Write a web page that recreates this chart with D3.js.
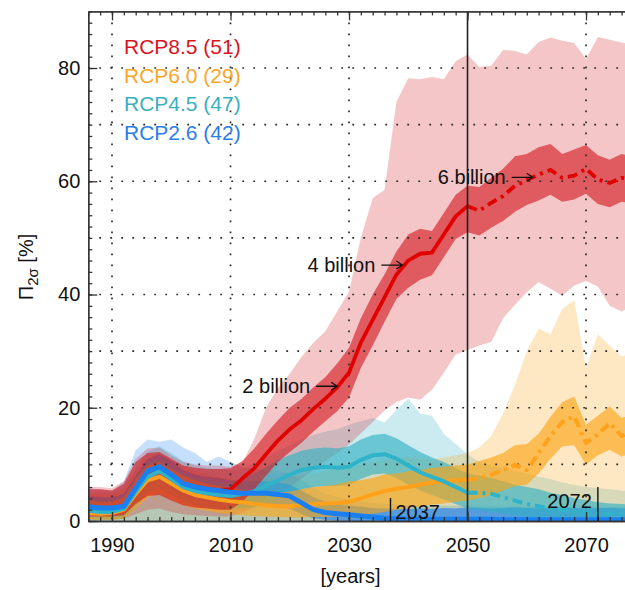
<!DOCTYPE html>
<html>
<head>
<meta charset="utf-8">
<script src="https://cdn.jsdelivr.net/npm/d3@7"></script>
<style>
  body { margin: 0; background: #fff; }
  svg { display: block; }
</style>
</head>
<body>
<svg id="chart" width="625" height="590"></svg>
<script>
// ---- data: ensemble fraction Π2σ [%] per scenario, every second year ----
const years = [1986, 1988, 1990, 1992, 1994, 1996, 1998, 2000, 2002, 2004,
               2006, 2008, 2010, 2012, 2014, 2016, 2018, 2020, 2022, 2024,
               2026, 2028, 2030, 2032, 2034, 2036, 2038, 2040, 2042, 2044,
               2046, 2048, 2050, 2052, 2054, 2056, 2058, 2060, 2062, 2064,
               2066, 2068, 2070, 2072, 2074, 2076, 2078];

const scenarioNames = ["RCP8.5", "RCP6.0", "RCP4.5", "RCP2.6"];
const modelCounts = [51, 29, 47, 42];

// RCP8.5
const rcp85Median = [2.4, 2.2, 2.1, 2.4, 5.6, 8.6, 9.4, 8.0, 6.5, 6.0, 5.6, 5.5, 5.6, 7.5, 9.3, 11.8, 14.2, 16.2, 17.8, 19.8, 21.6, 23.6, 26.2, 31.5, 35.5, 39.5, 43.5, 46.0, 47.2, 47.4, 50.6, 53.8, 55.6, 54.8, 56.2, 57.4, 59.2, 60.2, 61.2, 62.0, 60.6, 61.0, 62.2, 60.3, 59.7, 60.6, 60.2];
const rcp85InnerHi = [5.6, 5.6, 5.4, 6.6, 10.4, 12.0, 12.2, 11.0, 9.8, 9.4, 9.2, 9.2, 9.3, 10.6, 12.8, 15.4, 17.8, 20.0, 21.6, 23.6, 25.4, 27.8, 30.6, 35.8, 40.0, 43.6, 47.6, 50.6, 51.6, 51.2, 54.4, 57.6, 59.2, 59.0, 60.6, 62.2, 64.4, 64.8, 66.0, 66.6, 64.8, 65.6, 66.4, 64.6, 63.8, 64.8, 64.4];
const rcp85InnerLo = [0.8, 0.8, 0.8, 1.0, 3.0, 4.4, 4.6, 3.6, 2.8, 2.4, 2.2, 2.0, 2.0, 3.4, 5.6, 8.0, 10.4, 12.2, 13.8, 15.8, 17.6, 19.4, 21.8, 27.0, 31.0, 35.2, 39.2, 41.2, 42.6, 43.4, 46.6, 49.8, 51.0, 50.4, 51.8, 53.0, 54.6, 55.8, 56.6, 57.6, 56.4, 56.8, 57.8, 56.0, 55.4, 56.4, 56.0];
const rcp85OuterHi = [6.0, 6.0, 5.8, 7.0, 11.0, 12.8, 13.0, 11.6, 10.4, 10.0, 9.8, 9.8, 9.6, 10.2, 14.5, 20.0, 23.5, 26.0, 29.0, 31.5, 33.5, 37.0, 40.5, 50.0, 57.0, 58.5, 74.0, 78.2, 78.0, 78.4, 78.0, 81.2, 82.4, 80.2, 80.4, 83.2, 83.0, 82.4, 84.6, 85.4, 84.8, 84.4, 81.6, 85.5, 85.0, 84.5, 84.0];
const rcp85OuterLo = [0.3, 0.3, 0.3, 0.4, 1.2, 2.0, 2.2, 1.6, 1.2, 1.0, 0.9, 0.8, 0.8, 1.5, 2.5, 4.0, 5.0, 6.0, 7.5, 9.0, 10.5, 12.0, 13.5, 15.5, 17.5, 19.5, 21.0, 21.8, 21.4, 23.2, 26.2, 29.4, 30.2, 31.0, 31.6, 35.8, 38.2, 40.4, 42.2, 41.0, 39.8, 41.6, 42.4, 41.4, 38.0, 37.0, 38.0];

// RCP6.0
const rcp60Median = [1.4, 1.3, 1.4, 2.0, 4.8, 7.2, 7.8, 6.6, 5.4, 4.6, 4.2, 3.8, 3.5, 3.3, 3.0, 2.8, 2.6, 2.6, 2.8, 3.0, 3.1, 3.2, 3.4, 4.0, 4.7, 5.3, 5.7, 6.0, 6.4, 6.8, 7.0, 7.2, 7.3, 7.6, 8.2, 9.0, 9.9, 9.0, 12.0, 15.0, 17.5, 18.5, 13.8, 15.3, 17.3, 15.0, 16.0];
const rcp60InnerHi = [3.6, 3.4, 3.4, 4.2, 7.4, 9.8, 10.4, 9.2, 8.0, 7.2, 6.6, 6.2, 5.8, 5.5, 5.2, 5.0, 5.0, 5.2, 5.6, 6.0, 6.2, 6.5, 7.0, 7.2, 7.6, 8.2, 8.4, 8.8, 9.0, 9.4, 9.6, 9.8, 10.0, 10.6, 11.2, 12.0, 13.4, 13.6, 15.4, 18.4, 21.0, 22.0, 17.0, 18.6, 20.2, 18.2, 19.0];
const rcp60InnerLo = [0.2, 0.2, 0.2, 0.4, 2.2, 4.2, 4.8, 3.8, 2.8, 2.2, 1.8, 1.4, 1.2, 1.0, 0.9, 0.8, 0.7, 0.6, 0.6, 0.7, 0.7, 0.8, 0.8, 1.0, 1.3, 1.6, 2.0, 2.3, 2.6, 2.9, 3.1, 3.4, 3.6, 4.0, 4.6, 5.4, 6.2, 6.4, 8.4, 11.0, 13.2, 13.4, 10.0, 11.6, 12.6, 11.4, 12.0];
const rcp60OuterHi = [5.0, 4.8, 4.8, 5.6, 9.0, 11.4, 12.0, 10.8, 9.6, 8.8, 8.2, 7.8, 7.4, 7.2, 7.2, 7.4, 7.6, 7.8, 8.0, 8.4, 8.8, 9.2, 9.6, 10.0, 10.4, 10.8, 11.0, 11.4, 11.0, 10.8, 11.2, 11.6, 12.0, 13.0, 15.0, 19.0, 24.0, 30.0, 34.0, 33.0, 37.5, 39.0, 27.0, 33.0, 31.0, 29.0, 30.0];
const rcp60OuterLo = [0, 0, 0, 0, 0, 0, 0, 0, 0, 0, 0, 0, 0, 0, 0, 0, 0, 0, 0, 0, 0, 0, 0, 0, 0, 0, 0, 0, 0, 0, 0, 0, 0, 0, 0, 0, 0, 0, 0, 0, 0, 0, 0, 0, 0, 0, 0];

// RCP4.5
const rcp45Median = [1.8, 1.6, 1.6, 2.2, 5.2, 7.8, 8.8, 7.4, 6.0, 5.3, 4.9, 4.6, 4.4, 4.8, 5.2, 6.2, 7.2, 8.2, 9.0, 9.4, 9.6, 9.4, 9.6, 10.8, 11.6, 11.8, 11.0, 9.8, 8.6, 7.8, 7.0, 6.0, 5.0, 5.0, 4.8, 4.2, 3.6, 3.0, 2.6, 2.2, 2.0, 1.7, 1.5, 1.3, 1.2, 1.1, 1.0];
const rcp45InnerHi = [4.0, 3.8, 3.8, 4.6, 7.6, 10.2, 11.2, 9.8, 8.4, 7.6, 7.2, 6.9, 6.8, 7.4, 8.4, 9.6, 10.8, 11.6, 12.4, 12.8, 13.0, 12.8, 13.2, 14.4, 15.2, 15.4, 14.6, 13.4, 12.2, 11.2, 10.4, 9.4, 8.4, 8.0, 7.6, 7.0, 6.4, 6.0, 5.6, 5.0, 4.6, 4.0, 3.7, 3.3, 3.1, 3.0, 2.9];
const rcp45InnerLo = [0.2, 0.2, 0.2, 0.4, 2.6, 5.0, 5.8, 4.6, 3.4, 2.8, 2.4, 2.2, 2.0, 2.2, 2.4, 3.0, 3.8, 4.8, 5.6, 6.0, 6.2, 6.2, 6.4, 7.4, 8.2, 8.4, 7.6, 6.4, 5.4, 4.6, 3.8, 3.0, 2.2, 1.9, 1.6, 1.3, 1.0, 0.8, 0.6, 0.5, 0.4, 0.4, 0.3, 0.3, 0.3, 0.3, 0.3];
const rcp45OuterHi = [5.4, 5.2, 5.2, 6.0, 9.4, 12.2, 13.2, 12.0, 10.6, 9.8, 9.4, 9.2, 9.0, 9.2, 10.2, 11.2, 12.4, 13.4, 14.4, 15.2, 15.8, 16.2, 17.0, 17.6, 18.2, 17.4, 19.6, 21.6, 19.0, 18.6, 15.4, 13.6, 11.8, 10.4, 9.8, 9.4, 8.8, 8.4, 7.8, 7.4, 6.8, 6.4, 6.0, 5.8, 5.6, 5.4, 5.2];
const rcp45OuterLo = [0, 0, 0, 0, 0, 0, 0, 0, 0, 0, 0, 0, 0, 0, 0, 0, 0, 0, 0, 0, 0, 0, 0, 0, 0, 0, 0, 0, 0, 0, 0, 0, 0, 0, 0, 0, 0, 0, 0, 0, 0, 0, 0, 0, 0, 0, 0];

// RCP2.6
const rcp26Median = [2.5, 2.3, 2.3, 2.6, 5.8, 8.8, 9.6, 8.2, 6.6, 6.0, 5.6, 5.4, 5.1, 4.9, 4.9, 4.9, 4.7, 4.4, 3.2, 2.0, 1.5, 1.3, 1.1, 0.9, 0.7, 0.5, 0.4, 0.3, 0.3, 0.3, 0.3, 0.3, 0.3, 0.3, 0.3, 0.2, 0.2, 0.2, 0.2, 0.2, 0.2, 0.2, 0.2, 0.2, 0.2, 0.2, 0.2];
const rcp26InnerHi = [4.4, 4.2, 4.2, 4.8, 8.0, 11.0, 11.8, 10.6, 9.0, 8.2, 7.8, 7.6, 7.2, 7.0, 7.0, 7.0, 6.8, 6.4, 5.4, 4.2, 3.4, 3.0, 2.7, 2.5, 2.3, 2.2, 2.1, 2.1, 2.2, 2.1, 2.3, 2.2, 2.4, 2.3, 2.2, 2.3, 2.4, 2.3, 2.2, 2.3, 2.4, 2.3, 2.2, 2.3, 2.3, 2.2, 2.3];
const rcp26InnerLo = [0.8, 0.6, 0.6, 0.8, 3.4, 6.4, 7.2, 5.8, 4.2, 3.8, 3.4, 3.2, 3.0, 2.8, 2.8, 2.8, 2.6, 2.2, 1.2, 0.5, 0.2, 0.1, 0, 0, 0, 0, 0, 0, 0, 0, 0, 0, 0, 0, 0, 0, 0, 0, 0, 0, 0, 0, 0, 0, 0, 0, 0];
const rcp26OuterHi = [5.8, 5.6, 5.4, 7.0, 12.5, 14.4, 14.0, 14.4, 13.0, 12.0, 10.4, 11.4, 10.4, 9.6, 9.2, 9.0, 8.8, 8.4, 7.2, 6.0, 4.8, 4.2, 3.8, 3.5, 3.2, 3.0, 2.9, 2.8, 2.8, 2.8, 2.7, 2.7, 2.7, 2.6, 2.6, 2.6, 2.6, 2.5, 2.5, 2.5, 2.5, 2.5, 2.5, 2.5, 2.5, 2.5, 2.5];
const rcp26OuterLo = [0, 0, 0, 0, 0, 0, 0, 0, 0, 0, 0, 0, 0, 0, 0, 0, 0, 0, 0, 0, 0, 0, 0, 0, 0, 0, 0, 0, 0, 0, 0, 0, 0, 0, 0, 0, 0, 0, 0, 0, 0, 0, 0, 0, 0, 0, 0];

// axis ticks
const xTickYears = [1990, 2010, 2030, 2050, 2070];
const yTickValues = [0, 20, 40, 60, 80];
const yGridValues = [10, 20, 30, 40, 50, 60, 70, 80];
const xGridYears = [1990, 2010, 2030, 2070];
const splitYear = 2050;

// population annotations along the RCP8.5 median
const popLabels = ["2 billion", "4 billion", "6 billion"];
const popYears = [2028, 2039, 2061];
const popValues = [23.8, 45.2, 60.7];

// years at which the lower scenarios drop out
const dropYears = [2037, 2072];

// ---- drawing ----
const palette = {
  "RCP8.5": { band: "#d41a20", line: "#e00000", text: "#d8141c" },
  "RCP6.0": { band: "#fca311", line: "#ffa11a", text: "#f9a62a" },
  "RCP4.5": { band: "#31b0c4", line: "#2fb3c8", text: "#3ab0c0" },
  "RCP2.6": { band: "#1a7ff2", line: "#1a80f2", text: "#2a7ee8" }
};

const series = [
  { name: "RCP8.5", median: rcp85Median, inLo: rcp85InnerLo, inHi: rcp85InnerHi, outLo: rcp85OuterLo, outHi: rcp85OuterHi },
  { name: "RCP6.0", median: rcp60Median, inLo: rcp60InnerLo, inHi: rcp60InnerHi, outLo: rcp60OuterLo, outHi: rcp60OuterHi },
  { name: "RCP4.5", median: rcp45Median, inLo: rcp45InnerLo, inHi: rcp45InnerHi, outLo: rcp45OuterLo, outHi: rcp45OuterHi },
  { name: "RCP2.6", median: rcp26Median, inLo: rcp26InnerLo, inHi: rcp26InnerHi, outLo: rcp26OuterLo, outHi: rcp26OuterHi }
];

const FONT = "'Liberation Sans', Arial, Helvetica, sans-serif";
const W = 625, H = 590;
const x = d3.scaleLinear().domain([1986, 2077]).range([88.3, 627.5]);
const y = d3.scaleLinear().domain([0, 90]).range([521, 11.4]);
const plotLeft = x(1986), plotTop = y(90), plotBottom = y(0);

const svg = d3.select("#chart");
svg.append("defs").append("clipPath").attr("id", "plotClip")
  .append("rect").attr("x", plotLeft).attr("y", plotTop)
  .attr("width", W - plotLeft).attr("height", plotBottom - plotTop);

const plot = svg.append("g").attr("clip-path", "url(#plotClip)");
const idx = years.map((_, i) => i);

const band = (lo, hi) => d3.area()
  .x(i => x(years[i])).y0(i => y(lo[i])).y1(i => y(hi[i]));

// wide ensemble range, back to front
const bandOrder = ["RCP2.6", "RCP4.5", "RCP6.0", "RCP8.5"].map(n => series.find(s => s.name === n));
bandOrder.forEach(s => {
  plot.append("path").attr("d", band(s.outLo, s.outHi)(idx))
    .attr("fill", palette[s.name].band).attr("fill-opacity", 0.25);
});
// central range
bandOrder.forEach(s => {
  plot.append("path").attr("d", band(s.inLo, s.inHi)(idx))
    .attr("fill", palette[s.name].band).attr("fill-opacity", 0.62);
});

// dotted grid
const grid = plot.append("g").attr("stroke", "#2a2a2a").attr("stroke-width", 1.7)
  .attr("stroke-dasharray", "1.8,9.2");
grid.selectAll("line.h").data(yGridValues).join("line")
  .attr("x1", plotLeft).attr("x2", W).attr("y1", d => y(d)).attr("y2", d => y(d));
grid.selectAll("line.v").data(xGridYears).join("line")
  .attr("x1", d => x(d)).attr("x2", d => x(d)).attr("y1", plotTop).attr("y2", plotBottom);

// medians: solid up to 2050, dash-dot afterwards
const lineOrder = ["RCP8.5", "RCP6.0", "RCP4.5", "RCP2.6"].map(n => series.find(s => s.name === n));
const widths = { "RCP8.5": 3.8, "RCP6.0": 4, "RCP4.5": 4, "RCP2.6": 5 };
lineOrder.forEach(s => {
  const ln = d3.line().x(i => x(years[i])).y(i => y(s.median[i]));
  const before = idx.filter(i => years[i] <= splitYear);
  const after = idx.filter(i => years[i] >= splitYear);
  plot.append("path").attr("d", ln(before)).attr("fill", "none")
    .attr("stroke", palette[s.name].line).attr("stroke-width", widths[s.name])
    .attr("stroke-linejoin", "round").attr("stroke-linecap", "round");
  const dashed = plot.append("path").attr("d", ln(after)).attr("fill", "none")
    .attr("stroke", palette[s.name].line).attr("stroke-width", widths[s.name])
    .attr("stroke-linejoin", "round");
  if (s.name !== "RCP2.6") dashed.attr("stroke-dasharray", "10,5,3,5");
});

// 2050 marker line
svg.append("line").attr("x1", x(splitYear)).attr("x2", x(splitYear))
  .attr("y1", plotTop).attr("y2", plotBottom).attr("stroke", "#222").attr("stroke-width", 1.6);

// axes
function styleAxis(g) {
  g.selectAll("path.domain").attr("stroke", "#333").attr("stroke-width", 1.3);
  g.selectAll(".tick line").attr("stroke", "#333").attr("stroke-width", 1.3);
  g.selectAll("text").attr("font-family", FONT).attr("font-size", 20).attr("fill", "#111");
}
const minorY = d3.range(0, 91, 2);
const minorX = d3.range(1986, 2077, 2);

svg.append("g").attr("transform", `translate(${plotLeft},0)`)
  .call(d3.axisLeft(y).tickValues(minorY).tickSize(-4).tickSizeOuter(0).tickFormat(""))
  .call(styleAxis);
svg.append("g").attr("transform", `translate(${plotLeft},0)`)
  .call(d3.axisLeft(y).tickValues(yTickValues).tickSize(-9).tickSizeOuter(0).tickPadding(8).tickFormat(d3.format("d")))
  .call(styleAxis);

svg.append("g").attr("transform", `translate(0,${plotBottom})`)
  .call(d3.axisBottom(x).tickValues(minorX).tickSize(-4).tickSizeOuter(0).tickFormat(""))
  .call(styleAxis);
svg.append("g").attr("transform", `translate(0,${plotBottom})`)
  .call(d3.axisBottom(x).tickValues(xTickYears).tickSize(-9).tickSizeOuter(0).tickPadding(17).tickFormat(d3.format("d")))
  .call(styleAxis);

svg.append("g").attr("transform", `translate(0,${plotTop})`)
  .call(d3.axisTop(x).tickValues(minorX).tickSize(-4).tickSizeOuter(0).tickFormat(""))
  .call(styleAxis);
svg.append("g").attr("transform", `translate(0,${plotTop})`)
  .call(d3.axisTop(x).tickValues(xTickYears).tickSize(-9).tickSizeOuter(0).tickFormat(""))
  .call(styleAxis);

// axis titles
svg.append("text").attr("x", 350.5).attr("y", 583).attr("text-anchor", "middle")
  .attr("font-family", FONT).attr("font-size", 20).attr("fill", "#111").text("[years]");

const yl = svg.append("text").attr("transform", "translate(33,267) rotate(-90)")
  .attr("text-anchor", "middle").attr("font-family", FONT).attr("font-size", 20).attr("fill", "#111");
yl.append("tspan").text("Π");
yl.append("tspan").attr("font-size", 15).attr("dy", 5).text("2σ");
yl.append("tspan").attr("dy", -5).text(" [%]");

// population annotations with arrows
popLabels.forEach((lab, k) => {
  const tx = x(popYears[k]), ty = y(popValues[k]);
  svg.append("text").attr("x", tx - 27).attr("y", ty + 7).attr("text-anchor", "end")
    .attr("font-family", FONT).attr("font-size", 20).attr("fill", "#111").text(lab);
  svg.append("path")
    .attr("d", `M${tx - 21},${ty}H${tx} M${tx - 6},${ty - 4}L${tx},${ty}L${tx - 6},${ty + 4}`)
    .attr("fill", "none").attr("stroke", "#111").attr("stroke-width", 1.3);
});

// drop-out years
const dropBar = [23, 34];
dropYears.forEach((yr, k) => {
  const bx = x(yr);
  svg.append("line").attr("x1", bx).attr("x2", bx).attr("y1", plotBottom).attr("y2", plotBottom - dropBar[k])
    .attr("stroke", "#111").attr("stroke-width", 1.4);
  const t = svg.append("text").attr("font-family", FONT).attr("font-size", 20).attr("fill", "#111").text(String(yr));
  if (k === 0) t.attr("x", bx + 5).attr("y", plotBottom - 2);
  else t.attr("x", bx - 6).attr("y", plotBottom - 13).attr("text-anchor", "end");
});

// legend
scenarioNames.forEach((n, k) => {
  svg.append("text").attr("x", 124).attr("y", 54 + k * 28.6)
    .attr("font-family", FONT).attr("font-size", 21).attr("fill", palette[n].text)
    .text(`${n} (${modelCounts[k]})`);
});
</script>
</body>
</html>
